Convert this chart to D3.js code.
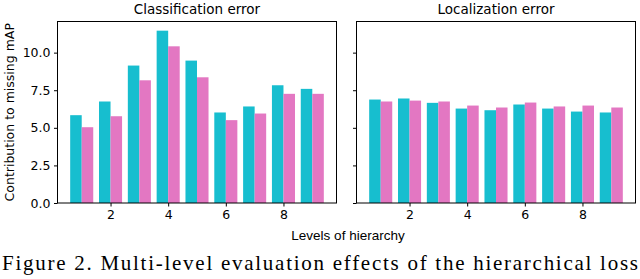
<!DOCTYPE html>
<html>
<head>
<meta charset="utf-8">
<script src="https://cdn.jsdelivr.net/npm/d3@7"></script>
<style>
  body { margin: 0; background: #fff; }
  svg { display: block; }
  .axis text { font-family: "DejaVu Sans", sans-serif; font-size: 12.5px; fill: #000; }
  .axis path, .axis line { stroke: #000; }
  .caption { font-family: "Liberation Serif", "Times New Roman", Times, serif; font-size: 21px; }
  .xlab { font-family: "Liberation Sans", Arial, sans-serif; font-size: 13.5px; }
</style>
</head>
<body>
<div id="vis"></div>
<script>
// levels of hierarchy 1..9, two bars per level
var levels = [1, 2, 3, 4, 5, 6, 7, 8, 9];
var xTicks = [2, 4, 6, 8];
var yTicks = [0, 2.5, 5, 7.5, 10];

// classification error panel
var clsCyan = [5.84, 6.75, 9.14, 11.46, 9.47, 6.02, 6.42, 7.83, 7.59];
var clsPink = [5.04, 5.77, 8.16, 10.42, 8.36, 5.51, 5.95, 7.26, 7.26];

// localization error panel
var locCyan = [6.88, 6.95, 6.66, 6.28, 6.17, 6.55, 6.28, 6.08, 6.02];
var locPink = [6.75, 6.81, 6.75, 6.48, 6.35, 6.68, 6.42, 6.48, 6.35];

var width = 640, height = 279;

var svg = d3.select("#vis")
  .append("svg")
  .attr("width", width)
  .attr("height", height);

var top_ = 21.5, bottom = 203;

var y = d3.scaleLinear().domain([0, 12.07]).range([bottom, top_]);

var panels = [
  {title: "Classification error", left: 57.5, right: 336.5, cyan: clsCyan, pink: clsPink, labels: true},
  {title: "Localization error", left: 356.5, right: 635.5, cyan: locCyan, pink: locPink, labels: false}
];

panels.forEach(function(p) {
  var x = d3.scaleLinear().domain([0.16, 9.84]).range([p.left, p.right]);
  var g = svg.append("g");

  var rows = levels.map(function(l, i) { return {level: l, c: p.cyan[i], p: p.pink[i]}; });

  // cyan bars (left of each level)
  g.selectAll(".barC")
    .data(rows)
    .enter().append("rect")
    .attr("x", function(d) { return x(d.level - 0.4); })
    .attr("y", function(d) { return y(d.c); })
    .attr("width", function(d) { return x(d.level) - x(d.level - 0.4); })
    .attr("height", function(d) { return bottom - y(d.c); })
    .attr("fill", "#17becf");

  // pink bars (right of each level)
  g.selectAll(".barP")
    .data(rows)
    .enter().append("rect")
    .attr("x", function(d) { return x(d.level); })
    .attr("y", function(d) { return y(d.p); })
    .attr("width", function(d) { return x(d.level + 0.4) - x(d.level); })
    .attr("height", function(d) { return bottom - y(d.p); })
    .attr("fill", "#e377c2");

  // axes
  g.append("g")
    .attr("class", "axis")
    .attr("transform", "translate(0," + bottom + ")")
    .call(d3.axisBottom(x).tickValues(xTicks).tickSize(3.5).tickPadding(3.5).tickSizeOuter(0))
    .call(function(a) { a.select(".domain").remove(); });

  g.append("g")
    .attr("class", "axis")
    .attr("transform", "translate(" + p.left + ",0)")
    .call(d3.axisLeft(y).tickValues(yTicks).tickSize(3.5).tickPadding(3.5)
      .tickFormat(p.labels ? d3.format(".1f") : function() { return ""; }))
    .call(function(a) { a.select(".domain").remove(); });

  // frame
  g.append("rect")
    .attr("x", p.left)
    .attr("y", top_)
    .attr("width", p.right - p.left)
    .attr("height", bottom - top_)
    .attr("fill", "none")
    .attr("stroke", "#000")
    .attr("stroke-width", 1);

  g.append("text")
    .attr("x", (p.left + p.right) / 2)
    .attr("y", 13.5)
    .attr("text-anchor", "middle")
    .attr("font-family", "DejaVu Sans, sans-serif")
    .attr("font-size", "13.5px")
    .text(p.title);
});

// y label
svg.append("text")
  .attr("transform", "translate(14," + (top_ + bottom) / 2 + ") rotate(-90)")
  .attr("text-anchor", "middle")
  .attr("font-family", "DejaVu Sans, sans-serif")
  .attr("font-size", "12.5px")
  .text("Contribution to missing mAP");

// x label
svg.append("text")
  .attr("class", "xlab")
  .attr("x", 348)
  .attr("y", 240)
  .attr("text-anchor", "middle")
  .text("Levels of hierarchy");

// caption
svg.append("text")
  .attr("class", "caption")
  .attr("x", 2)
  .attr("y", 270)
  .attr("textLength", 636)
  .attr("lengthAdjust", "spacing")
  .text("Figure 2. Multi-level evaluation effects of the hierarchical loss");
</script>
</body>
</html>
